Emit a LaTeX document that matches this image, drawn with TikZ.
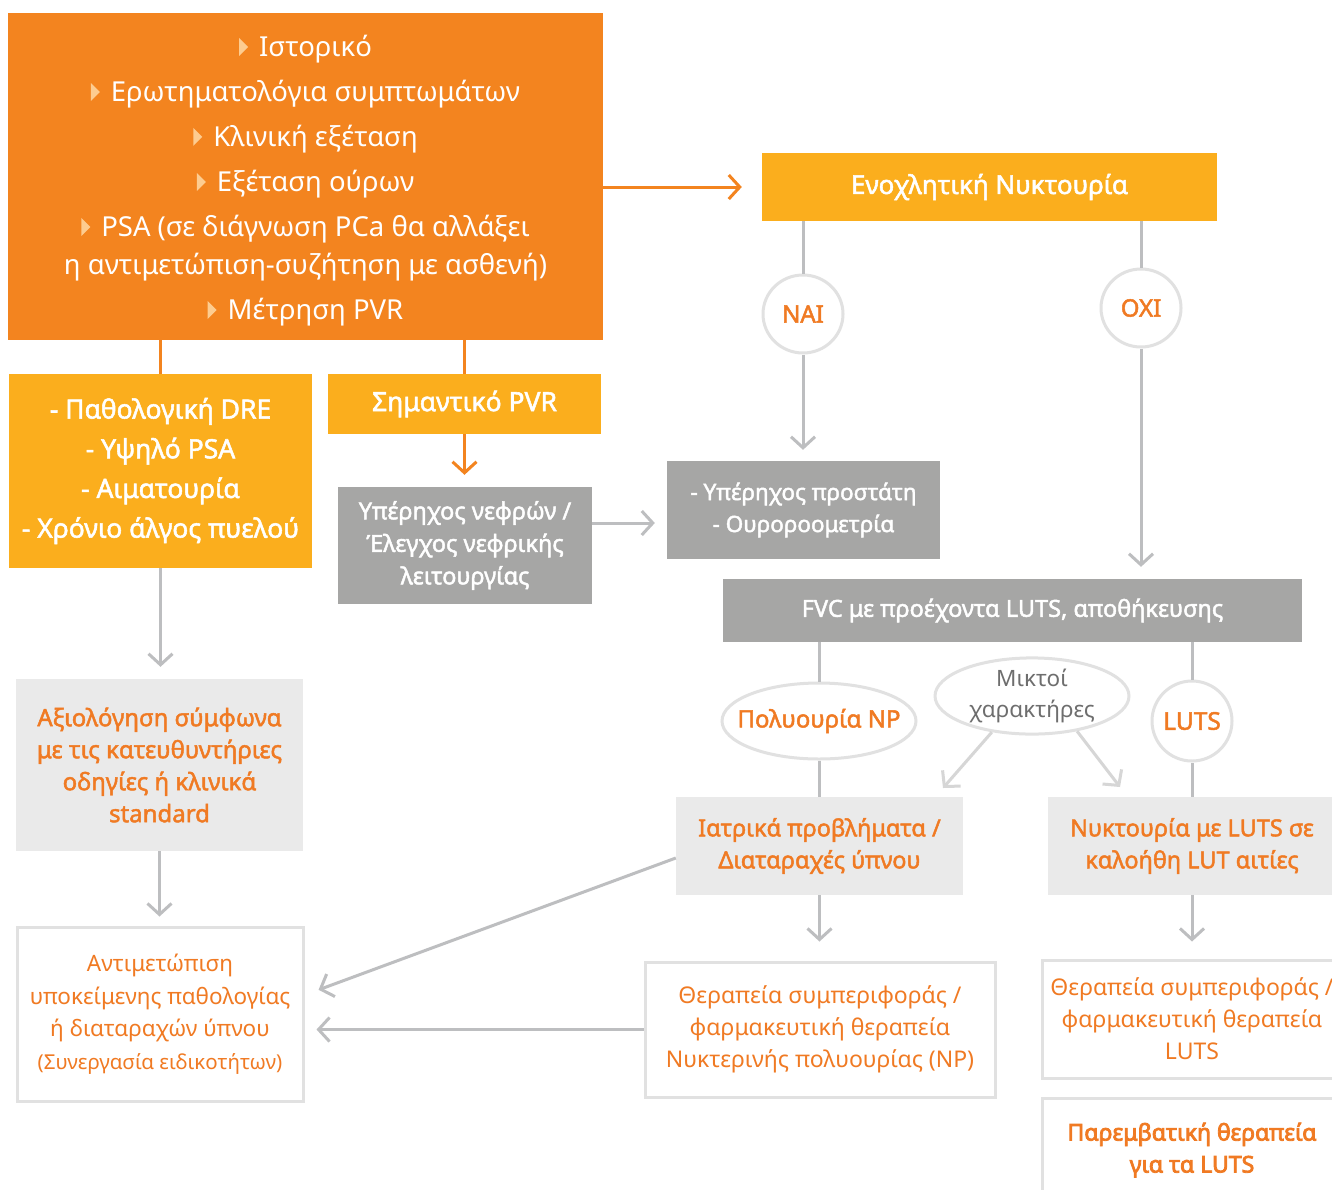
\documentclass[tikz,border=0pt]{standalone}
\usepackage{fontspec}
\setmainfont{Noto Sans}
\newfontfamily\medfont{Noto Sans}[FakeBold=2]
\newfontfamily\heavyfont{Noto Sans}[FakeBold=3.5]
\usetikzlibrary{shapes.geometric,arrows.meta}

\definecolor{orng}{HTML}{F3841F}
\definecolor{ambr}{HTML}{FBAE1D}
\definecolor{gbox}{HTML}{A6A6A5}
\definecolor{lbox}{HTML}{EAEAEA}
\definecolor{bord}{HTML}{E1E1E1}
\definecolor{conn}{HTML}{BDBEC0}
\definecolor{conlt}{HTML}{D6D6D6}
\definecolor{otext}{HTML}{F07A23}
\definecolor{trib}{HTML}{FDCC90}
\definecolor{mtext}{HTML}{6E6E6E}

\newcommand\fs[2]{\fontsize{#1}{#2}\selectfont}
% small pale triangle used as a list bullet
\newcommand\tri{\tikz[baseline=-0.36em]\fill[trib] (0pt,-9pt)--(0pt,9pt)--(9pt,0pt)--cycle;\hspace{11pt}}

\tikzset{
  box/.style={rectangle, inner sep=0pt, align=center},
  obox/.style={box, fill=orng, text=white},
  abox/.style={box, fill=ambr, text=white},
  gbx/.style={box, fill=gbox, text=white},
  lbx/.style={box, fill=lbox, text=otext},
  wbx/.style={box, fill=white, draw=bord, line width=3pt, text=otext},
  oval/.style={ellipse, fill=white, draw=bord, line width=3pt, inner sep=0pt, align=center},
  oline/.style={draw=orng, line width=3pt},
  gline/.style={draw=conn, line width=3pt},
  lline/.style={draw=conlt, line width=3pt},
  tip/.style={-{Straight Barb[length=11pt,width=24pt]}},
}

\begin{document}
\begin{tikzpicture}[x=1pt,y=-1pt]
\clip (0,0) rectangle (1332,1189);
\fill[white] (0,0) rectangle (1332,1189);

% ---- boxes ----
\node[obox, minimum width=595pt, minimum height=327pt] (top) at (305.5,176.5) {};
\node[align=center, text=white, inner sep=0pt, font=\fs{27.5}{45}] (toptext) at (305.5,181)
  {\tri Ιστορικό\\
   \tri Ερωτηματολόγια συμπτωμάτων\\
   \tri Κλινική εξέταση\\
   \tri Εξέταση ούρων\\
   \tri PSA (σε διάγνωση PCa θα αλλάξει\\[-7pt]
   η αντιμετώπιση-συζήτηση με ασθενή)\\
   \tri Μέτρηση PVR};

\node[abox, minimum width=455pt, minimum height=68pt, font=\medfont\fs{26}{30}] (nokt) at (989.5,187) {Ενοχλητική Νυκτουρία};

\node[abox, minimum width=303pt, minimum height=194pt, font=\medfont\fs{26.5}{39.7}] (amb1) at (160.5,471)
  {- Παθολογική DRE\\ - Υψηλό PSA\\ - Αιματουρία\\ - Χρόνιο άλγος πυελού};

\node[abox, minimum width=273pt, minimum height=60pt, font=\medfont\fs{26.5}{30}] (spvr) at (464.5,404) {Σημαντικό PVR};

\node[gbx, minimum width=254pt, minimum height=117pt, font=\medfont\fs{23.5}{32.5}] (ult1) at (465,545.5)
  {Υπέρηχος νεφρών /\\ Έλεγχος νεφρικής\\ λειτουργίας};

\node[gbx, minimum width=273pt, minimum height=98pt, font=\medfont\fs{22.5}{32}] (ult2) at (803.5,510)
  {- Υπέρηχος προστάτη\\ - Ουροροομετρία};

\node[gbx, minimum width=579pt, minimum height=63pt, font=\medfont\fs{23.5}{30}] (fvc) at (1012.5,610.5)
  {FVC με προέχοντα LUTS, αποθήκευσης};

% ovals: the label is set in a zero-width box so the oval keeps its given size
\node[oval, minimum width=80pt, minimum height=78pt, text=otext, font=\medfont\fs{24}{26}] (nai) at (803,314) {\makebox[0pt]{NAI}};
\node[oval, minimum width=80pt, minimum height=78pt, text=otext, font=\medfont\fs{24}{26}] (oxi) at (1141,308) {\makebox[0pt]{OXI}};
\node[oval, minimum width=194pt, minimum height=76pt, text=otext, font=\medfont\fs{24}{26}] (poly) at (819,721) {\makebox[0pt]{Πολυουρία NP}};
\node[oval, minimum width=194pt, minimum height=76pt, text=mtext, font=\fs{22.5}{31}] (mix) at (1032,696) {\makebox[0pt]{Μικτοί}\\ \makebox[0pt]{χαρακτήρες}};
\node[oval, minimum width=80pt, minimum height=80pt, text=otext, font=\medfont\fs{24.5}{26}] (luts) at (1192,721) {\makebox[0pt]{LUTS}};

\node[lbx, minimum width=287pt, minimum height=98pt, font=\medfont\fs{23.5}{32}] (iatr) at (819.5,846)
  {Ιατρικά προβλήματα /\\ Διαταραχές ύπνου};
\node[lbx, minimum width=288pt, minimum height=98pt, font=\medfont\fs{23.5}{32}] (nluts) at (1192,846)
  {Νυκτουρία με LUTS σε\\ καλοήθη LUT αιτίες};

\node[wbx, minimum width=350pt, minimum height=135pt, font=\fs{23}{32}] (thnp) at (820,1029.5)
  {Θεραπεία συμπεριφοράς /\\ φαρμακευτική θεραπεία\\ Νυκτερινής πολυουρίας (NP)};
\node[wbx, minimum width=300pt, minimum height=118pt, font=\fs{23}{32}] (thl) at (1192,1019)
  {Θεραπεία συμπεριφοράς /\\ φαρμακευτική θεραπεία\\ LUTS};
\node[wbx, minimum width=300pt, minimum height=104pt, font=\heavyfont\fs{23}{32}] (par) at (1192,1150)
  {Παρεμβατική θεραπεία\\ για τα LUTS};

\node[lbx, minimum width=287pt, minimum height=172pt, font=\medfont\fs{24}{32}] (axi) at (159.5,765)
  {Αξιολόγηση σύμφωνα\\ με τις κατευθυντήριες\\ οδηγίες ή κλινικά\\ standard};
\node[wbx, minimum width=286pt, minimum height=174pt, font=\fs{22.5}{32.5}] (ant) at (160,1014)
  {Αντιμετώπιση\\ υποκείμενης παθολογίας\\ ή διαταραχών ύπνου\\ {\fs{20.5}{32.5}(Συνεργασία ειδικοτήτων)}};

\coordinate (mixa) at (943,788);
\coordinate (mixb) at (1120,787);

% ---- connectors ----
\draw[oline, tip, shorten >=20pt] (top.east |- nokt.west) -- (nokt.west);
\draw[oline] (top.south -| amb1) -- (amb1.north);
\draw[oline] (top.south -| spvr) -- (spvr.north);
\draw[oline, tip, shorten >=12pt] (spvr.south) -- (spvr.south |- ult1.north);
\draw[gline, tip, shorten >=12pt] ([yshift=22.5pt]ult1.east) -- ([yshift=22.5pt]ult1.east -| ult2.west);

\draw[gline] (nokt.south -| nai) -- (nai.north);
\draw[gline, tip, shorten >=11pt] (nai.south) -- (nai.south |- ult2.north);
\draw[gline] (nokt.south -| oxi) -- (oxi.north);
\draw[gline, tip, shorten >=12pt] (oxi.south) -- (oxi.south |- fvc.north);

\draw[gline] (fvc.south -| poly) -- (poly.north);
\draw[gline] (poly.south) -- (poly.south |- iatr.north);
\draw[gline] (fvc.south -| luts) -- (luts.north);
\draw[gline] (luts.south) -- (luts.south |- nluts.north);
\draw[lline, tip] (mix.222) -- (mixa);
\draw[lline, tip] (mix.322) -- (mixb);

\draw[gline, tip, shorten >=19pt] (iatr.south) -- (iatr.south |- thnp.north);
\draw[gline, tip, shorten >=17pt] (nluts.south) -- (nluts.south |- thl.north);
\draw[gline, tip, shorten >=15pt] ([yshift=-12pt]iatr.west) -- ([yshift=19pt]ant.east);
\draw[gline, tip, shorten >=12pt] (thnp.west) -- (thnp.west -| ant.east);

\draw[gline, tip, shorten >=12pt] (amb1.south) -- (amb1.south |- axi.north);
\draw[gline, tip, shorten >=9pt] (axi.south) -- (axi.south |- ant.north);
\end{tikzpicture}
\end{document}
